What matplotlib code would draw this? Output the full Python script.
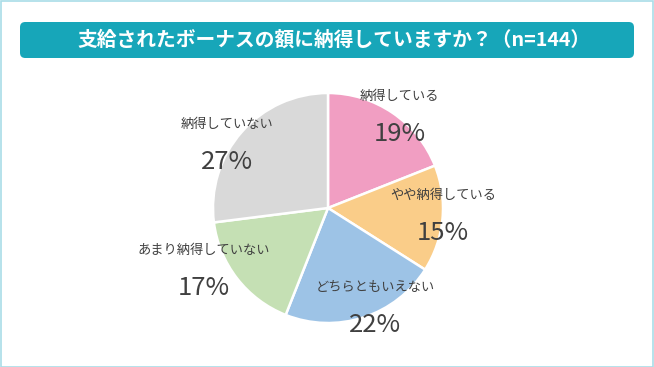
import matplotlib
matplotlib.use("Agg")
import matplotlib.pyplot as plt
from matplotlib.patches import FancyBboxPatch, Rectangle
import numpy as np

plt.rcParams['font.family'] = ['Noto Sans CJK JP', 'DejaVu Sans']

title = "支給されたボーナスの額に納得していますか？（n=144）"
categories = ["納得している", "やや納得している", "どちらともいえない", "あまり納得していない", "納得していない"]
values = [19, 15, 22, 17, 27]
colors = ["#F19EC2", "#FACD89", "#9DC3E6", "#C5E0B4", "#D9D9D9"]

W, H = 654, 367
fig = plt.figure(figsize=(W / 100, H / 100), dpi=100)
fig.patch.set_facecolor("white")

# outer frame
fig.patches.append(Rectangle((0.5 / W, 0.5 / H), 1 - 1.5 / W, 1 - 1.5 / H, transform=fig.transFigure,
                             fill=False, edgecolor="#A9DDE8", linewidth=1.2))
# title box
bx0, bx1, by0, by1 = 20, 634, 22, 58
fig.patches.append(FancyBboxPatch((bx0 / W, 1 - by1 / H), (bx1 - bx0) / W, (by1 - by0) / H,
                                  boxstyle="round,pad=0,rounding_size=0.008",
                                  transform=fig.transFigure, facecolor="#17A6B9", edgecolor="none",
                                  mutation_aspect=W / H))
fig.text((bx0 + bx1) / 2 / W + 0.01, 1 - (by0 + by1) / 2 / H, title, color="white", fontsize=14.2,
         fontweight="bold", ha="center", va="center")

# pie axes
cx, cy, R = 328, 208, 115
ax = fig.add_axes([(cx - R) / W, (H - cy - R) / H, 2 * R / W, 2 * R / H])
wedges, _ = ax.pie(values, colors=colors, startangle=90, counterclock=False, radius=1.0,
                   wedgeprops=dict(edgecolor="white", linewidth=1.8))
ax.set_xlim(-1, 1)
ax.set_ylim(-1, 1)
ax.set_aspect("equal")
ax.axis("off")

# label anchor adjustments (radius fraction, angle offset in degrees)
adjust = [(1.03, -3), (1.0, 3), (0.94, 8), (1.2, -12), (1.05, 8)]
for w, cat, v, (rf, da) in zip(wedges, categories, values, adjust):
    ang = np.deg2rad((w.theta1 + w.theta2) / 2 + da)
    x, y = rf * np.cos(ang), rf * np.sin(ang)
    ax.text(x, y + 0.15, cat, ha="center", va="center", fontsize=9.5, color="#404040", clip_on=False)
    ax.text(x, y - 0.175, f"{v}%", ha="center", va="center", fontsize=18.5, color="#404040", clip_on=False)

fig.savefig("out.png", dpi=100)
